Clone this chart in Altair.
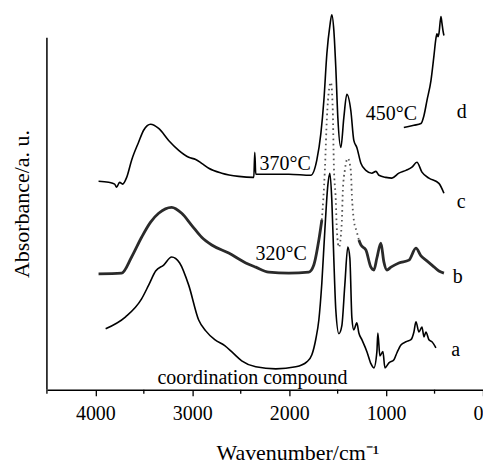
import altair as alt
import pandas as pd

# ---- spectrum a (coordination compound) ----
a_w = [3894, 3688, 3523, 3450, 3378, 3295, 3213, 3130, 3037, 2934, 2861, 2768, 2665, 2583, 2490,
       2345, 2138, 1932, 1818, 1766, 1725, 1694, 1663, 1632, 1601, 1580, 1560, 1539, 1519, 1487,
       1457, 1426, 1395, 1374, 1353, 1333, 1302, 1281, 1250, 1198, 1157, 1126, 1095, 1085, 1064,
       1033, 1012, 971, 919, 888, 847, 795, 744, 713, 692, 661, 630, 609, 589, 558, 527, 486]
a_A = [17.3, 20.7, 25.8, 29.7, 33.7, 35.4, 37.7, 36.0, 29.7, 19.8, 16.7, 14.2, 12.5, 10.5, 8.2,
       6.5, 5.9, 6.5, 7.9, 9.9, 14.4, 19.8, 30.3, 45.3, 58.1, 61.5, 53.8, 36.8, 22.7, 15.9,
       18.1, 29.7, 40.5, 37.4, 20.4, 17.0, 19.0, 16.1, 14.2, 10.8, 7.4, 6.2, 10.8, 16.1, 9.6,
       10.8, 6.2, 7.6, 8.5, 10.5, 12.7, 13.6, 14.2, 16.4, 19.3, 16.4, 17.8, 15.0, 16.4, 14.2, 13.6, 11.9]

# ---- spectrum b (320 °C) : solid parts and dotted peak part ----
bl_w = [3967, 3729, 3626, 3523, 3430, 3347, 3213, 3109, 3006, 2903, 2799, 2624, 2448, 2345,
        2211, 2004, 1797, 1746, 1694, 1663]
bl_A = [32.9, 33.1, 37.7, 43.3, 47.6, 50.1, 51.8, 50.1, 46.7, 43.3, 41.1, 38.8, 36.0, 34.8,
        33.4, 33.1, 33.4, 35.4, 42.5, 48.2]
bp_w = [1663, 1632, 1611, 1590, 1570, 1550, 1539, 1519, 1508, 1487, 1457, 1446, 1426, 1395,
        1364, 1353, 1333, 1302, 1281]
bp_A = [48.2, 62.3, 77.1, 85.0, 87.3, 79.3, 63.7, 53.8, 45.3, 40.5, 47.6, 56.7, 62.3, 65.7,
        62.3, 55.2, 48.2, 44.8, 42.5]
br_w = [1281, 1260, 1209, 1157, 1126, 1095, 1054, 1023, 992, 950, 868, 764, 692, 640, 589,
        527, 455, 403]
br_A = [42.5, 41.1, 39.7, 34.8, 34.0, 37.4, 41.6, 36.3, 34.0, 34.8, 36.0, 36.8, 40.2, 38.0,
        36.8, 35.4, 33.7, 33.1]

# ---- spectrum c (370 °C) ----
c_w = [3967, 3863, 3801, 3781, 3750, 3719, 3677, 3626, 3554, 3502, 3430, 3347, 3244, 3140,
       3037, 2965, 2903, 2830, 2696, 2521, 2376, 2365, 2355, 2345, 2211, 2004, 1777, 1715,
       1673, 1642, 1611, 1580, 1560, 1539, 1519, 1498, 1467, 1436, 1405, 1364, 1333, 1302,
       1260, 1209, 1147, 1105, 1074, 1002, 940, 868, 795, 733, 682, 630, 558, 455, 403]
c_A = [59.2, 58.9, 58.4, 57.5, 58.9, 58.4, 60.3, 65.2, 70.3, 73.7, 75.4, 74.2, 70.8, 68.0,
       66.0, 65.4, 64.3, 62.9, 61.5, 60.6, 60.3, 60.3, 67.4, 61.2, 61.2, 61.2, 60.9, 65.2,
       72.8, 82.2, 95.5, 103.4, 106.5, 102.0, 91.5, 77.3, 68.8, 77.3, 83.9, 79.3, 70.8, 68.8,
       64.3, 62.3, 61.5, 62.0, 60.9, 60.3, 60.1, 61.5, 62.3, 63.2, 64.6, 61.8, 60.1, 58.6, 55.8]

# ---- spectrum d (450 °C) ----
d_w = [817, 713, 640, 609, 578, 537, 506, 486, 475, 465, 455, 434, 424, 413, 403]
d_A = [74.5, 75.1, 75.6, 77.9, 82.2, 87.8, 94.9, 99.7, 101.1, 100.3, 101.1, 106.0, 104.2, 102.0, 100.6]

# ---- annotations ----
ann_text = ["370°C", "320°C", "450°C", "coordination compound", "d", "c", "b", "a"]
ann_w = [2042, 2083, 945, 2379, 219, 224, 260, 281]
ann_A = [62.4, 36.8, 76.5, 1.7, 77.1, 51.6, 30.4, 9.6]

minor_ticks = [4500, 3500, 2500, 1500, 500]

FONT = "Liberation Serif"


def frame(ws, As, name):
    return pd.DataFrame({"w": ws, "A": As, "i": list(range(len(ws))), "s": name})


solid_df = pd.concat([frame(a_w, a_A, "a"), frame(c_w, c_A, "c"), frame(d_w, d_A, "d")])
b_solid_df = pd.concat([frame(bl_w, bl_A, "b1"), frame(br_w, br_A, "b2")])
b_peak_df = frame(bp_w, bp_A, "bp")
ann_df = pd.DataFrame({"w": ann_w, "A": ann_A, "t": ann_text})
minor_df = pd.DataFrame({"w": minor_ticks})

xscale = alt.Scale(domain=[4500, 0], nice=False, zero=False)
yscale = alt.Scale(domain=[0, 108], nice=False, zero=False)

x_enc = alt.X(
    "w:Q", scale=xscale, title="Wavenumber/cm⁻¹",
    axis=alt.Axis(
        values=[4000, 3000, 2000, 1000, 0], format="d", grid=False,
        tickSize=6, tickColor="black", tickWidth=1.3,
        domainColor="black", domainWidth=1.5,
        labelFont=FONT, labelFontSize=20, labelColor="black",
        labelBaseline="alphabetic", labelPadding=24,
        titleFont=FONT, titleFontSize=22, titleFontWeight="normal", titleColor="black",
        titleX=251, titleY=70, titleBaseline="alphabetic", titleAlign="center",
    ),
)
y_enc = alt.Y(
    "A:Q", scale=yscale, title="Absorbance/a. u.",
    axis=alt.Axis(
        domain=False, ticks=False, labels=False, grid=False,
        titleFont=FONT, titleFontSize=22, titleFontWeight="normal", titleColor="black",
        titleX=-25, titleY=194.5, titleAngle=-90, titleBaseline="middle", titleAlign="center",
    ),
)

solid = alt.Chart(solid_df).mark_line(
    color="black", strokeWidth=1.6, interpolate="monotone"
).encode(x=x_enc, y=y_enc, detail="s:N", order="i:Q")
b_solid = alt.Chart(b_solid_df).mark_line(
    color="#2a2a2a", strokeWidth=2.8, interpolate="monotone"
).encode(x="w:Q", y="A:Q", detail="s:N", order="i:Q")
b_peak = alt.Chart(b_peak_df).mark_line(
    color="#555555", strokeWidth=1.8, strokeDash=[1.6, 3.4], interpolate="monotone"
).encode(x="w:Q", y="A:Q", order="i:Q")

yaxis_line = alt.Chart(pd.DataFrame({"w": [4500], "A0": [0], "A1": [100]})).mark_rule(
    color="black", strokeWidth=1.5
).encode(x="w:Q", y="A0:Q", y2="A1:Q")

minor = alt.Chart(minor_df).mark_rule(color="black", strokeWidth=1.3).encode(
    x="w:Q", y=alt.value(381), y2=alt.value(385)
)

labels = alt.Chart(ann_df).mark_text(
    font=FONT, fontSize=20, color="black", align="center", baseline="alphabetic"
).encode(x="w:Q", y="A:Q", text="t:N")

chart = alt.layer(solid, b_solid, b_peak, yaxis_line, minor, labels).properties(
    width=437, height=381,
    autosize=alt.AutoSizeParams(type="none"),
    padding={"left": 39, "top": 1, "right": 0, "bottom": 74},
    background="white",
).configure_view(stroke=None)

chart.save("out.html", embed_options={"renderer": "svg", "actions": False})
